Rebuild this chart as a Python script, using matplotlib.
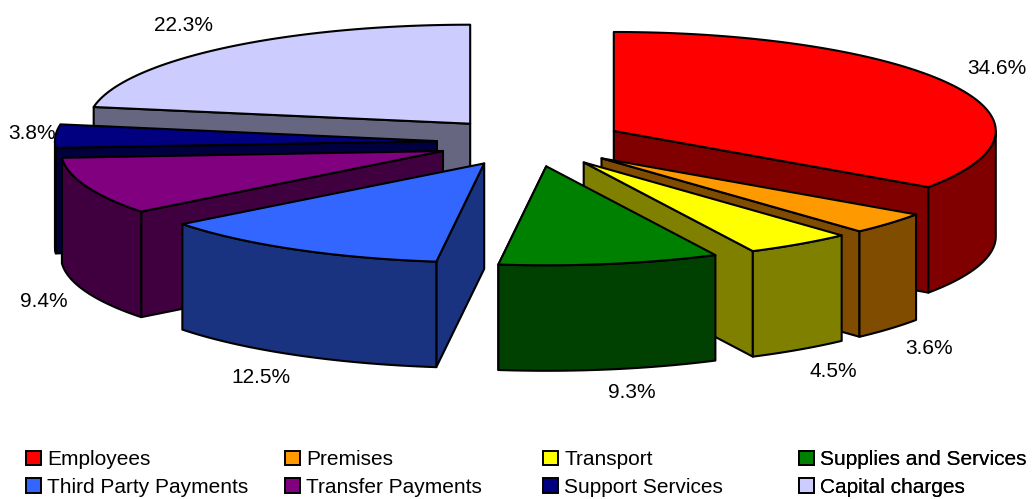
import numpy as np
import matplotlib
matplotlib.use("Agg")
import matplotlib.pyplot as plt
from matplotlib.patches import Polygon, Patch

plt.rcParams['font.family'] = ['Liberation Sans', 'DejaVu Sans']

categories = ["Employees", "Premises", "Transport", "Supplies and Services",
              "Third Party Payments", "Transfer Payments", "Support Services", "Capital charges"]
values = [34.6, 3.6, 4.5, 9.3, 12.5, 9.4, 3.8, 22.3]
top_colors = ["#FF0000", "#FF9900", "#FFFF00", "#008000", "#3366FF", "#800080", "#000080", "#CCCCFF"]
side_colors = ["#800000", "#804C00", "#808000", "#004000", "#1A3380", "#400040", "#000040", "#666680"]
label_offsets = [(45, 16), (39, -125), (34, -127), (22, -129), (-34, -128), (-42, -115), (-23, 3), (-40, 23)]
draw_order = [7, 6, 5, 4, 0, 1, 2, 3]

CX, CY, A, B, DEPTH, EXPLODE = 530.7, 142.3, 382.0, 99.0, 105.5, 0.2457
LW = 1.5

fig = plt.figure(figsize=(10.34, 4.99), dpi=100)
ax = fig.add_axes([0, 0, 1, 1])
ax.set_xlim(0, 1034)
ax.set_ylim(499, 0)
ax.axis("off")


def rim(t, x0, y0):
    t = np.radians(t)
    return x0 + A * np.sin(t), y0 - B * np.cos(t)


def add(xs, ys, color, z):
    ax.add_patch(Polygon(np.column_stack([xs, ys]), closed=True, facecolor=color,
                         edgecolor="black", linewidth=LW, joinstyle="round", zorder=z))


edges = np.concatenate([[0], np.cumsum(values)]) / sum(values) * 360
for rank, i in enumerate(draw_order):
    t0, t1 = edges[i], edges[i + 1]
    mid_deg = (t0 + t1) / 2
    mid = np.radians(mid_deg)
    x0 = CX + EXPLODE * A * np.sin(mid)
    y0 = CY - EXPLODE * B * np.cos(mid)
    z = 2 + rank
    # the one radial wall that faces the viewer
    t = t0 if mid_deg > 180 else t1
    rx, ry = rim(t, x0, y0)
    add([x0, rx, rx, x0], [y0, ry, ry + DEPTH, y0 + DEPTH], side_colors[i], z)
    # outer wall, front part only
    lo, hi = max(t0, 90), min(t1, 270)
    if hi > lo:
        ts = np.linspace(lo, hi, 80)
        rx, ry = rim(ts, x0, y0)
        add(np.r_[rx, rx[::-1]], np.r_[ry, ry[::-1] + DEPTH], side_colors[i], z)
    # top
    ts = np.linspace(t0, t1, 160)
    rx, ry = rim(ts, x0, y0)
    add(np.r_[x0, rx], np.r_[y0, ry], top_colors[i], z)
    # label
    px, py = rim(mid_deg, x0, y0)
    ax.annotate(f"{values[i]:.1f}%", (px, py), xytext=label_offsets[i], textcoords="offset pixels",
                ha="center", va="center", fontsize=15, color="black", zorder=20)

# legend: four columns of two entries
legend_x = [20, 279, 537, 793]
for c, lx in enumerate(legend_x):
    handles = [Patch(facecolor=top_colors[j], edgecolor="black", linewidth=1.4, label=categories[j])
               for j in (c, c + 4)]
    leg = ax.legend(handles=handles, loc="upper left", bbox_to_anchor=(lx, 444),
                    bbox_transform=ax.transData, frameon=False, fontsize=15, ncols=1,
                    handlelength=0.72, handleheight=0.7, handletextpad=0.29, labelspacing=0.42,
                    borderpad=0.3, borderaxespad=0)
    ax.add_artist(leg)

fig.savefig("out.png", dpi=100)
